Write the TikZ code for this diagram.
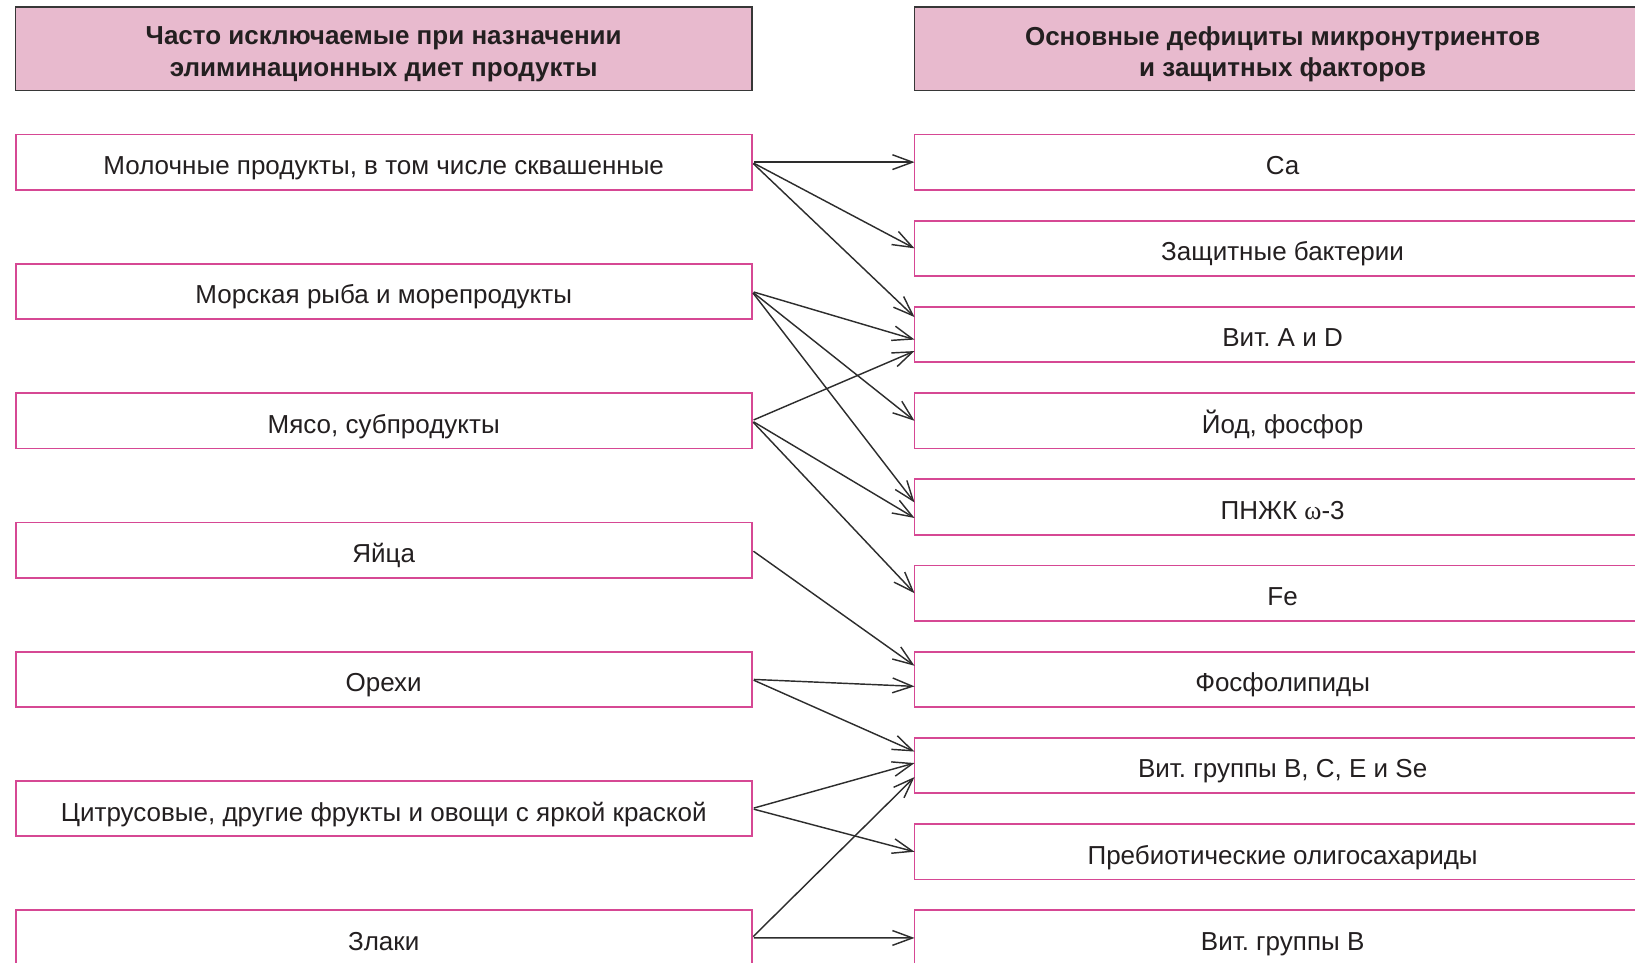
\documentclass[tikz,border=0pt]{standalone}
\usepackage{fontspec}
\setmainfont{Liberation Sans}
\newfontfamily\greekfont{Liberation Serif}
\usetikzlibrary{positioning, arrows.meta}
\definecolor{headfill}{RGB}{232,186,206}
\definecolor{headline}{RGB}{55,55,55}
\definecolor{boxline}{RGB}{214,72,148}
\definecolor{arrowc}{RGB}{45,45,45}
\definecolor{textc}{RGB}{35,31,32}
\frenchspacing
\tikzset{
    node distance=15.45pt, % gap between the boxes of the right column
    head/.style={ % pink title boxes, text comes as a label
        draw=headline, fill=headfill, line width=0.8pt,
        minimum width=368.1pt, minimum height=41.7pt,
        inner sep=0pt, outer sep=0pt
    },
    headtext/.style={
        align=center, text=textc, yshift=-2.6pt,
        font=\bfseries\fontsize{13}{15.6}\selectfont
    },
    item/.style={ % plain boxes with a pink frame
        draw=boxline, fill=white, line width=0.9pt,
        minimum width=368.1pt, minimum height=27.65pt,
        inner sep=0pt, outer sep=0pt, text=textc,
        text height=13.4pt, text depth=1pt,
        font=\fontsize{13}{15}\selectfont
    },
    every edge/.style={ % the links between both columns
        draw, ->, >={Straight Barb[length=10pt,width=7.4pt]},
        line width=0.72pt, arrowc, shorten <=1pt
    },
}

\begin{document}
\begin{tikzpicture}
    \useasboundingbox (0,0) rectangle (817.5pt,-481.5pt);
    \clip (0,0) rectangle (817.5pt,-481.5pt);

    \node[head, anchor=north west,
          label={[headtext]center:Часто исключаемые при назначении\\элиминационных диет продукты}]
          (hleft) at (7.8pt,-3.65pt) {};
    \node[head, anchor=north west,
          label={[headtext]center:Основные дефициты микронутриентов\\и защитных факторов}]
          (hright) at (457.25pt,-3.65pt) {};

    % products
    \node[item, below=21.9pt of hleft] (milk)  {Молочные продукты, в том числе сквашенные};
    \node[item, below=37pt of milk]    (fish)  {Морская рыба и морепродукты};
    \node[item, below=37pt of fish]    (meat)  {Мясо, субпродукты};
    \node[item, below=37pt of meat]    (eggs)  {Яйца};
    \node[item, below=37pt of eggs]    (nuts)  {Орехи};
    \node[item, below=37pt of nuts]    (fruit) {Цитрусовые, другие фрукты и овощи с яркой краской};
    \node[item, below=37pt of fruit]   (grain) {Злаки};

    % deficits
    \node[item, below=21.9pt of hright] (ca)     {Ca};
    \node[item, below=of ca]            (bact)   {Защитные бактерии};
    \node[item, below=of bact]          (vitad)  {Вит. A и D};
    \node[item, below=of vitad]         (iod)    {Йод, фосфор};
    \node[item, below=of iod]           (pufa)   {ПНЖК {\greekfont ω}-3};
    \node[item, below=of pufa]          (fe)     {Fe};
    \node[item, below=of fe]            (phos)   {Фосфолипиды};
    \node[item, below=of phos]          (vitbce) {Вит. группы B, C, E и Se};
    \node[item, below=of vitbce]        (preb)   {Пребиотические олигосахариды};
    \node[item, below=of preb]          (vitb)   {Вит. группы B};

    \draw   (milk.east)  edge (ca.west)
            (milk.east)  edge (bact.west)
            (milk.east)  edge ([yshift=8.75pt]vitad.west)
            (fish.east)  edge ([yshift=-2.5pt]vitad.west)
            (fish.east)  edge (iod.west)
            (fish.east)  edge ([yshift=2.25pt]pufa.west)
            (meat.east)  edge ([yshift=-8.25pt]vitad.west)
            (meat.east)  edge ([yshift=-5.5pt]pufa.west)
            (meat.east)  edge (fe.west)
            (eggs.east)  edge ([yshift=6.8pt]phos.west)
            (nuts.east)  edge ([yshift=-3.5pt]phos.west)
            (nuts.east)  edge ([yshift=7pt]vitbce.west)
            (fruit.east) edge ([yshift=1.25pt]vitbce.west)
            (fruit.east) edge (preb.west)
            (grain.east) edge ([yshift=-5.75pt]vitbce.west)
            (grain.east) edge (vitb.west)
    ;
\end{tikzpicture}
\end{document}
